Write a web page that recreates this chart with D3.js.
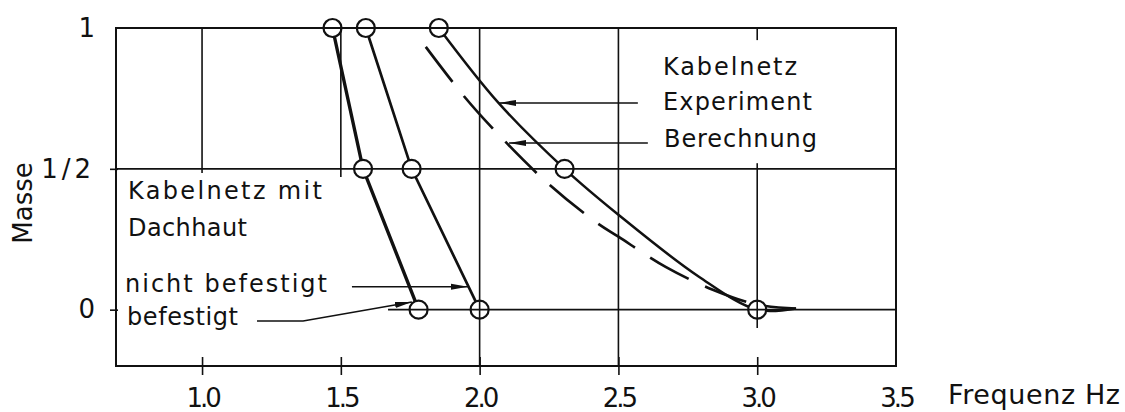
<!DOCTYPE html>
<html>
<head>
<meta charset="utf-8">
<script src="https://cdn.jsdelivr.net/npm/d3@7"></script>
<style>
  body { margin: 0; background: #fff; }
  text { font-family: "DejaVu Sans", sans-serif; fill: #111; }
</style>
</head>
<body>
<svg id="chart" width="1125" height="412"></svg>
<script>
// values (frequency in Hz, mass as fraction)
const xTicks = [1.0, 1.5, 2.0, 2.5, 3.0, 3.5];
const xTickLabels = ["1.0", "1.5", "2.0", "2.5", "3.0", "3.5"];
const yTicks = [0, 0.5, 1];
const yTickLabels = ["0", "1/2", "1"];

// Kabelnetz mit Dachhaut, befestigt
const befestigt = [[1.47, 1], [1.58, 0.5], [1.78, 0]];
// Kabelnetz mit Dachhaut, nicht befestigt
const nichtBefestigt = [[1.59, 1], [1.755, 0.5], [2.0, 0]];
// Kabelnetz, Experiment: measured points and the drawn curve through them
const experimentPts = [[1.853, 1], [2.306, 0.5], [3.0, 0]];
const experimentCurve = [[1.853, 1], [2.068, 0.734], [2.306, 0.5], [2.5, 0.337],
                         [2.79, 0.117], [3.0, 0.0], [3.14, 0.004]];
// Kabelnetz, Berechnung (dashed)
const berechnung = [[1.806, 0.933], [1.946, 0.755], [2.06, 0.63], [2.24, 0.454],
                    [2.42, 0.31], [2.5, 0.259], [2.67, 0.152], [2.84, 0.071],
                    [3.0, 0.018], [3.14, 0.004]];

// grid segments (x, from, to) - the original is broken around the labels
const vGrid = [[1.0, 0.485, 1], [1.5, 0.471, 1], [2.0, -0.2, 1], [2.5, -0.2, 1],
               [3.0, 0.957, 1], [3.0, -0.065, 0.52]];
const hGrid = [[0.5, 0.69, 3.5], [0, 1.67, 3.5]];

// leader arrows pointing at the curves
const arrows = [
  [[2.570, 0.734], [2.070, 0.734]],
  [[2.606, 0.592], [2.106, 0.592]],
  [[1.540, 0.081], [1.958, 0.081]],
  [[1.198, -0.040], [1.364, -0.040], [1.756, 0.027]]
];

const svg = d3.select("#chart");
const x = d3.scaleLinear().domain([0.69, 3.5]).range([116, 896]);
const y = d3.scaleLinear().domain([-0.2, 1]).range([366, 28]);

svg.append("defs").append("marker")
    .attr("id", "head")
    .attr("markerUnits", "userSpaceOnUse")
    .attr("markerWidth", 18).attr("markerHeight", 8)
    .attr("refX", 17).attr("refY", 4)
    .attr("orient", "auto")
  .append("path")
    .attr("d", "M0,1 L17,4 L0,7 Z")
    .attr("fill", "#111");

const line = d3.line().x(d => x(d[0])).y(d => y(d[1]));
const smooth = d3.line().x(d => x(d[0])).y(d => y(d[1])).curve(d3.curveCatmullRom);

// curves
const curves = svg.append("g").attr("fill", "none").attr("stroke", "#111");
curves.append("path").attr("d", line(befestigt)).attr("stroke-width", 3.4);
curves.append("path").attr("d", line(nichtBefestigt)).attr("stroke-width", 2.7);
curves.append("path").attr("d", smooth(experimentCurve)).attr("stroke-width", 2.5);
curves.append("path").attr("d", smooth(berechnung)).attr("stroke-width", 2.7)
    .attr("stroke-dasharray", "44,18");

// measured points
svg.append("g").selectAll("circle")
    .data(befestigt.concat(nichtBefestigt, experimentPts))
    .enter()
    .append("circle")
    .attr("cx", d => x(d[0]))
    .attr("cy", d => y(d[1]))
    .attr("r", 9)
    .attr("fill", "#fff")
    .attr("stroke", "#111")
    .attr("stroke-width", 2.2);

// grid on top so it runs through the circles
const grid = svg.append("g").attr("stroke", "#111").attr("stroke-width", 1.6);
grid.selectAll(".v").data(vGrid).enter().append("line")
    .attr("x1", d => x(d[0])).attr("x2", d => x(d[0]))
    .attr("y1", d => y(d[1])).attr("y2", d => y(d[2]));
grid.selectAll(".h").data(hGrid).enter().append("line")
    .attr("y1", d => y(d[0])).attr("y2", d => y(d[0]))
    .attr("x1", d => x(d[1])).attr("x2", d => x(d[2]));

// frame
svg.append("rect")
    .attr("x", x(0.69)).attr("y", y(1))
    .attr("width", x(3.5) - x(0.69)).attr("height", y(-0.2) - y(1))
    .attr("fill", "none").attr("stroke", "#111").attr("stroke-width", 2);

// axes
const xAxis = svg.append("g")
    .attr("transform", `translate(0,${y(-0.2)})`)
    .call(d3.axisBottom(x).tickValues(xTicks)
      .tickFormat((d, i) => xTickLabels[i]).tickSize(9));
xAxis.select(".domain").remove();
xAxis.selectAll(".tick line").attr("y1", -9).attr("stroke", "#111").attr("stroke-width", 1.6)
    .filter(d => d === 3.5).remove();
xAxis.selectAll(".tick text")
    .attr("y", 41).attr("dy", 0)
    .attr("font-size", 26).attr("letter-spacing", -3)
    .attr("font-family", "DejaVu Sans").attr("fill", "#111");

const yAxis = svg.append("g")
    .attr("transform", `translate(${x(0.69)},0)`)
    .call(d3.axisLeft(y).tickValues(yTicks)
      .tickFormat((d, i) => yTickLabels[i]).tickSize(6).tickPadding(15));
yAxis.select(".domain").remove();
yAxis.selectAll(".tick line").attr("x1", 2).attr("stroke", "#111").attr("stroke-width", 1.6)
    .filter(d => d === 1).remove();
yAxis.selectAll(".tick text")
    .attr("font-size", 26).attr("dy", "0.32em")
    .attr("font-family", "DejaVu Sans").attr("fill", "#111")
    .filter(d => d === 0.5).attr("letter-spacing", 4);

// leader arrows
svg.append("g").selectAll("path")
    .data(arrows)
    .enter()
    .append("path")
    .attr("d", line)
    .attr("fill", "none")
    .attr("stroke", "#111")
    .attr("stroke-width", 1.5)
    .attr("marker-end", "url(#head)");

// labels
function label(txt, px, py, size, len) {
  svg.append("text")
      .attr("x", px).attr("y", py)
      .attr("font-size", size)
      .attr("textLength", len)
      .attr("lengthAdjust", "spacing")
      .text(txt);
}
label("Kabelnetz", 663, 75, 24, 134);
label("Experiment", 663, 110, 24, 149);
label("Berechnung", 664, 147, 24, 153);
label("Kabelnetz mit", 128, 199, 24, 194);
label("Dachhaut", 128, 236, 24, 119);
label("nicht befestigt", 125, 292, 24, 202);
label("befestigt", 127, 325, 24, 111);
label("Frequenz Hz", 948, 404, 27, 172);

svg.append("text")
    .attr("transform", "translate(32,203) rotate(-90)")
    .attr("text-anchor", "middle")
    .attr("font-size", 26)
    .text("Masse");
</script>
</body>
</html>
